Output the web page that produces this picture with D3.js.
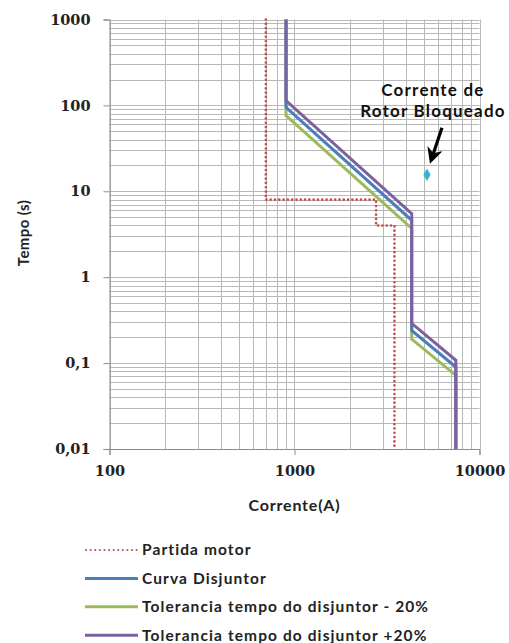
<!DOCTYPE html>
<html>
<head>
<meta charset="utf-8">
<script src="https://cdn.jsdelivr.net/npm/d3@7"></script>
<style>
    body { margin: 0; background: #fff; }
    svg { display: block; }
</style>
</head>
<body>
<svg id="chart"></svg>
<script>
// series values (corrente in A, tempo in s)
const partidaI = [700, 700, 2760, 2760, 3470, 3470];
const partidaT = [1000, 8, 8, 4, 4, 0.01];

const disjuntorI = [900, 900, 4300, 4300, 7450, 7450];
const disjuntorT = [1000, 95, 4.6, 0.24, 0.09, 0.01];
const tolMenosT = [1000, 76, 3.7, 0.19, 0.072, 0.01];
const tolMaisT = [1000, 114, 5.5, 0.29, 0.108, 0.01];

const rotorI = [5200];
const rotorT = [15.6];

const xTicks = [100, 1000, 10000];
const yTicks = [0.01, 0.1, 1, 10, 100, 1000];
const yTickLabels = ['0,01', '0,1', '1', '10', '100', '1000'];

const legendLabels = [
    'Partida motor',
    'Curva Disjuntor',
    'Tolerancia tempo do disjuntor - 20%',
    'Tolerancia tempo do disjuntor +20%'
];

const width = 509;
const height = 643;
const margin = { top: 19.5, right: 29.5, left: 109.5 };
const plotBottom = 449;

const svg = d3.select('#chart')
    .attr('width', width)
    .attr('height', height);

const x = d3.scaleLog()
    .domain([100, 10000])
    .range([margin.left, width - margin.right]);

const y = d3.scaleLog()
    .domain([0.01, 1000])
    .range([plotBottom, margin.top]);

// minor + major grid
const grid = svg.append('g');

grid.selectAll('.vgrid')
    .data(x.ticks())
    .join('line')
    .attr('x1', d => Math.round(x(d)) + 0.5)
    .attr('x2', d => Math.round(x(d)) + 0.5)
    .attr('y1', margin.top)
    .attr('y2', plotBottom)
    .attr('stroke', '#b8b8b8')
    .attr('stroke-width', 1);

grid.selectAll('.hgrid')
    .data(y.ticks())
    .join('line')
    .attr('x1', margin.left)
    .attr('x2', width - margin.right)
    .attr('y1', d => Math.round(y(d)) + 0.5)
    .attr('y2', d => Math.round(y(d)) + 0.5)
    .attr('stroke', '#b8b8b8')
    .attr('stroke-width', 1);

// axes
const xAxis = d3.axisBottom(x)
    .tickValues(xTicks)
    .tickSize(6)
    .tickFormat(d => d);

const yAxis = d3.axisLeft(y)
    .tickValues(yTicks)
    .tickSize(6)
    .tickFormat((d, i) => yTickLabels[i]);

const gx = svg.append('g')
    .attr('transform', `translate(0,${plotBottom})`)
    .call(xAxis);

const gy = svg.append('g')
    .attr('transform', `translate(${margin.left},0)`)
    .call(yAxis);

[gx, gy].forEach(g => {
    g.select('.domain').attr('stroke', '#8c8c8c');
    g.selectAll('.tick line').attr('stroke', '#8c8c8c');
    g.selectAll('.tick text')
        .attr('fill', '#222')
        .style('font-family', '"DejaVu Serif", serif')
        .style('font-weight', 'bold')
        .style('font-size', '14.5px');
});
gx.selectAll('.tick text').attr('y', 22).attr('dy', '0.35em');
gy.selectAll('.tick text').attr('x', -19);

// axis titles
svg.append('text')
    .attr('x', x(1000))
    .attr('y', 511)
    .attr('text-anchor', 'middle')
    .style('font-family', 'Lato, sans-serif')
    .style('font-weight', 'bold')
    .style('font-size', '16px')
    .style('letter-spacing', '0.8px')
    .attr('fill', '#222')
    .text('Corrente(A)');

svg.append('text')
    .attr('transform', 'translate(29,233) rotate(-90)')
    .attr('text-anchor', 'middle')
    .style('font-family', 'Lato, sans-serif')
    .style('font-weight', 'bold')
    .style('font-size', '15px')
    .style('letter-spacing', '0.4px')
    .attr('fill', '#222')
    .text('Tempo (s)');

// series, in legend order
const series = [
    { name: legendLabels[0], I: partidaI, T: partidaT, color: '#c0504d', dash: '0.1,4.2', width: 2.6 },
    { name: legendLabels[1], I: disjuntorI, T: disjuntorT, color: '#4a7ebb', dash: null, width: 3 },
    { name: legendLabels[2], I: disjuntorI, T: tolMenosT, color: '#9bbb59', dash: null, width: 3 },
    { name: legendLabels[3], I: disjuntorI, T: tolMaisT, color: '#7d60a0', dash: null, width: 3 }
];
// green under blue under purple
const drawOrder = [0, 2, 1, 3];

const line = d3.line()
    .x(d => x(d[0]))
    .y(d => y(d[1]));

svg.append('g')
    .selectAll('path')
    .data(drawOrder.map(i => series[i]))
    .join('path')
    .attr('d', s => line(d3.zip(s.I, s.T)))
    .attr('fill', 'none')
    .attr('stroke', s => s.color)
    .attr('stroke-width', s => s.width)
    .attr('stroke-dasharray', s => s.dash)
    .attr('stroke-linecap', s => s.dash ? 'round' : 'butt')
    .attr('stroke-linejoin', 'miter');

// rotor bloqueado point
const rotor = d3.zip(rotorI, rotorT);
svg.append('g')
    .selectAll('path')
    .data(rotor)
    .join('path')
    .attr('transform', d => `translate(${x(d[0])},${y(d[1])})`)
    .attr('d', d3.symbol(d3.symbolDiamond, 45))
    .attr('fill', '#33b4d4');

// annotation
const ax = x(rotorI[0]);
const ay = y(rotorT[0]);

svg.append('defs').append('marker')
    .attr('id', 'arrow')
    .attr('viewBox', '0 0 10 10')
    .attr('refX', 6)
    .attr('refY', 5)
    .attr('markerWidth', 5)
    .attr('markerHeight', 5)
    .attr('orient', 'auto')
    .append('path')
    .attr('d', 'M0,0 L10,5 L0,10 L3,5 z')
    .attr('fill', '#000');

svg.append('line')
    .attr('x1', ax + 15)
    .attr('y1', ay - 47)
    .attr('x2', ax + 5)
    .attr('y2', ay - 17)
    .attr('stroke', '#000')
    .attr('stroke-width', 3.2)
    .attr('marker-end', 'url(#arrow)');

svg.append('text')
    .attr('text-anchor', 'middle')
    .style('font-family', 'Lato, sans-serif')
    .style('font-weight', 'bold')
    .style('font-size', '17px')
    .style('letter-spacing', '1.2px')
    .attr('fill', '#111')
    .selectAll('tspan')
    .data(['Corrente de', 'Rotor Bloqueado'])
    .join('tspan')
    .attr('x', ax + 6)
    .attr('y', (d, i) => ay - 79 + i * 21.5)
    .text(d => d);

// legend
const legend = svg.append('g')
    .selectAll('g')
    .data(series)
    .join('g')
    .attr('transform', (d, i) => `translate(85,${550 + i * 28.4})`);

legend.append('line')
    .attr('x1', s => s.dash ? 1 : 0)
    .attr('x2', 53)
    .attr('stroke', s => s.color)
    .attr('stroke-width', s => s.dash ? 2 : 3)
    .attr('stroke-linecap', s => s.dash ? 'round' : 'butt')
    .attr('stroke-dasharray', s => s.dash ? '0.1,4.5' : null);

legend.append('text')
    .attr('x', 57)
    .attr('dy', '0.35em')
    .style('font-family', 'Lato, sans-serif')
    .style('font-size', '15.5px')
    .style('font-weight', 'bold')
    .style('letter-spacing', '1.1px')
    .attr('fill', '#222')
    .text(s => s.name);
</script>
</body>
</html>
